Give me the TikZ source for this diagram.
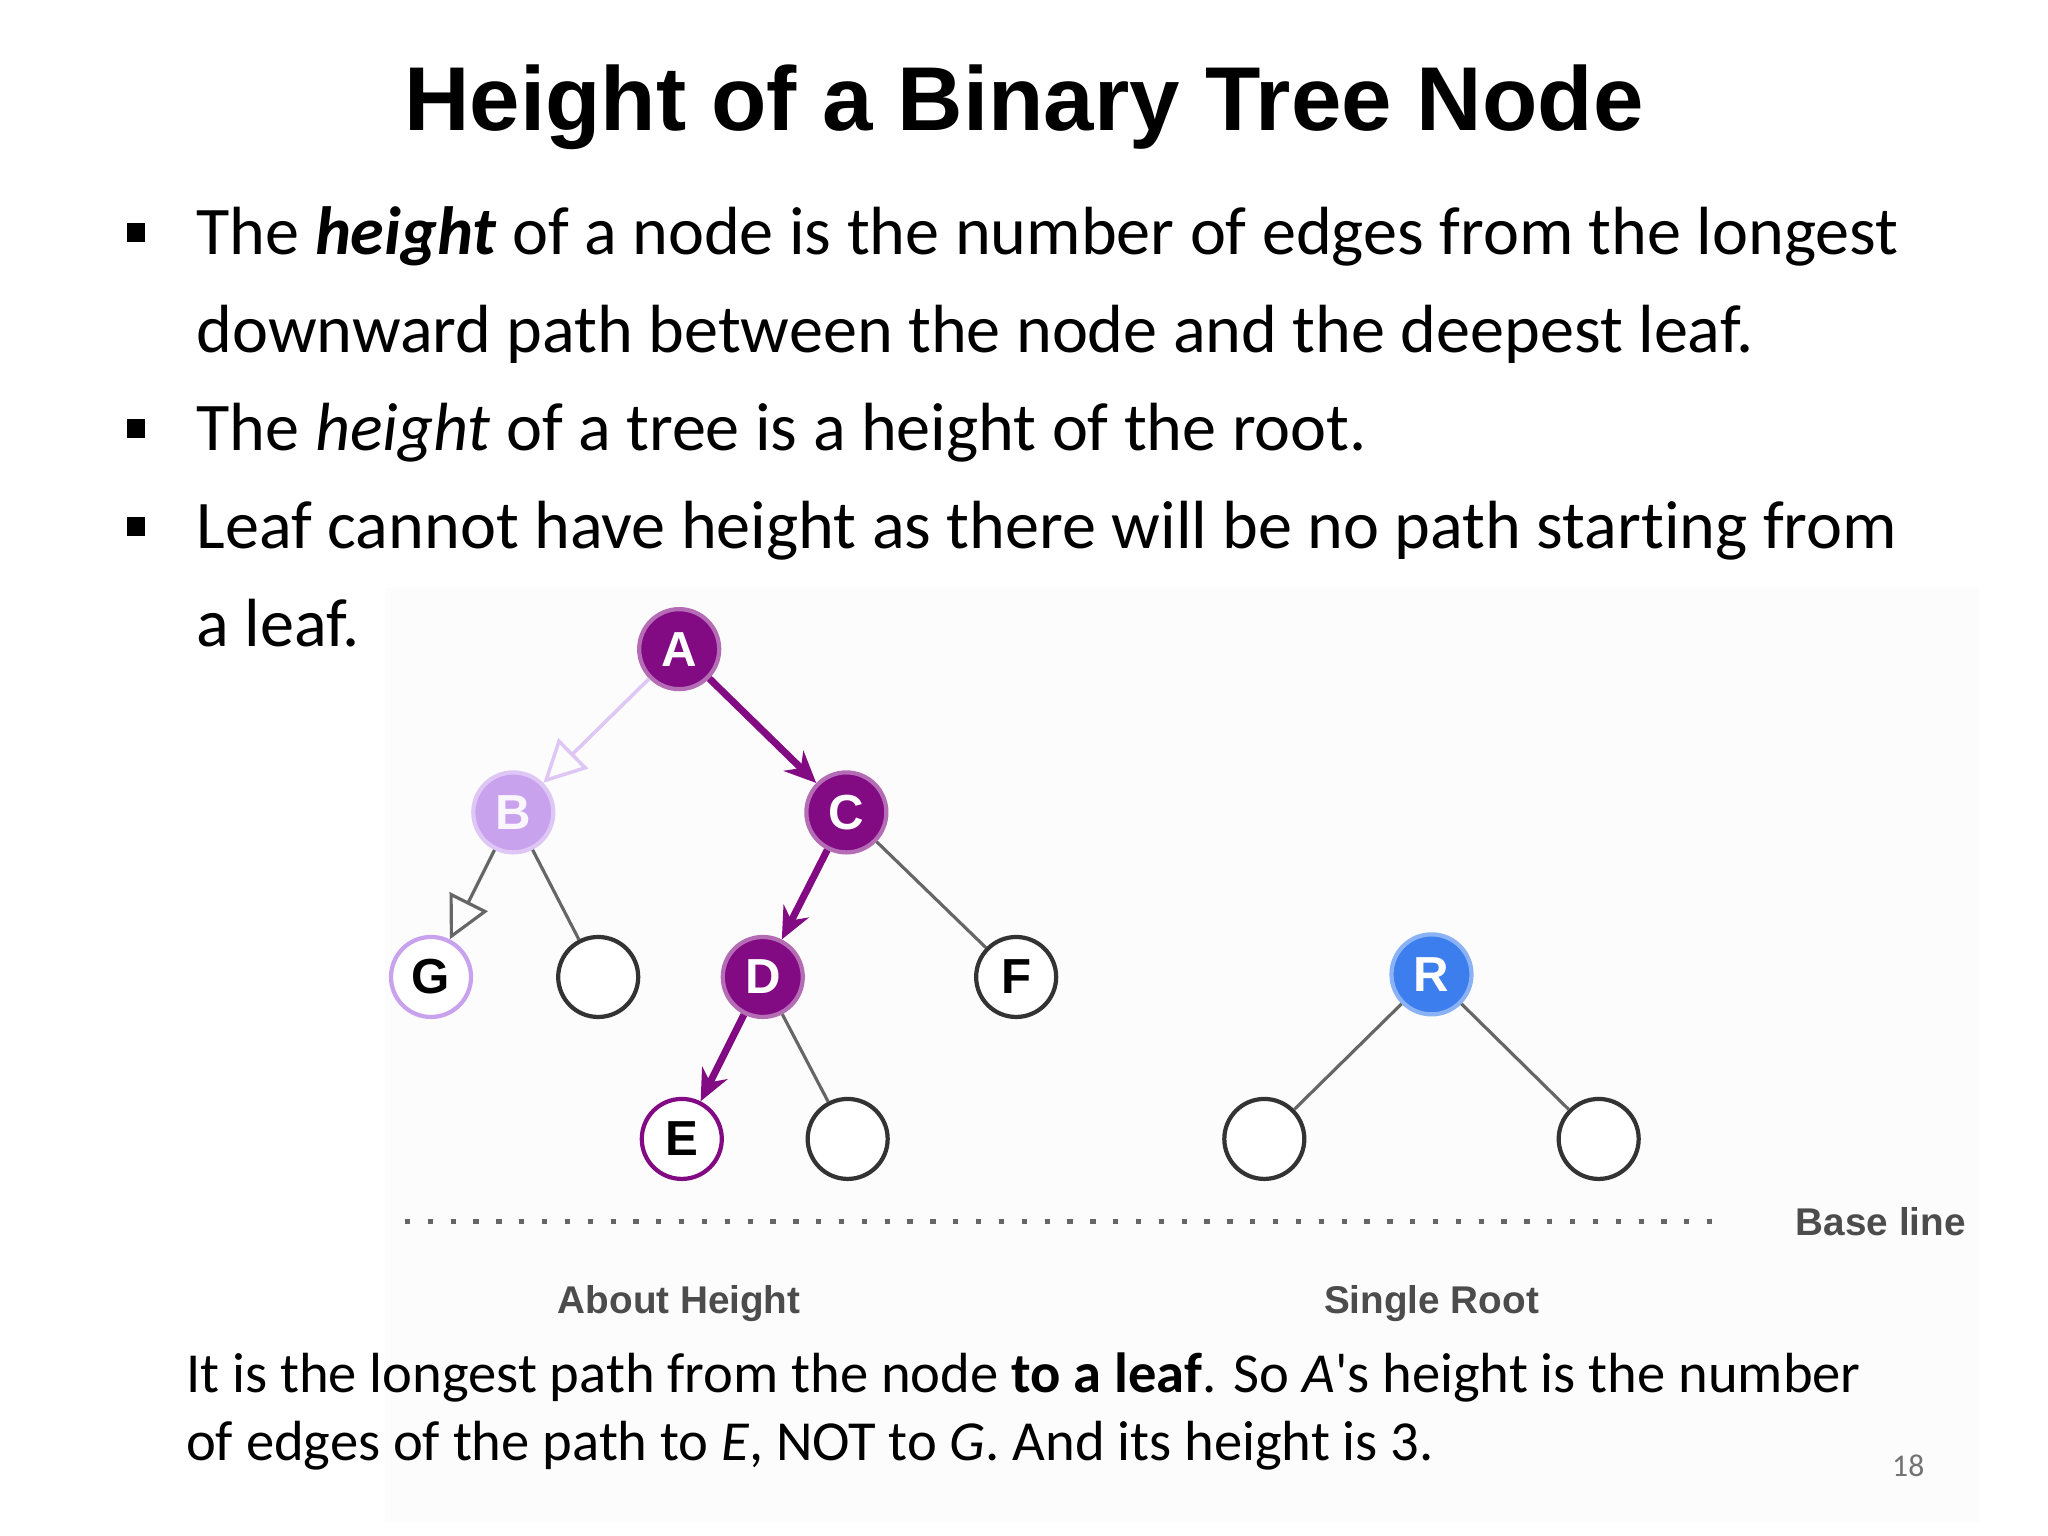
\documentclass[tikz,border=0pt]{standalone}
\usepackage{fontspec}
\setmainfont{Carlito}[Ligatures=NoCommon]
\newfontfamily\titlefont{Liberation Sans}
\usetikzlibrary{arrows.meta}
\definecolor{dpurple}{HTML}{820A82}
\definecolor{lpurple}{HTML}{C9A2EE}
\definecolor{rblue}{HTML}{3C7EEE}
\begin{document}
\begin{tikzpicture}[x=0.013061cm,y=-0.013061cm,
  tn/.style={circle,minimum size=0.8cm,inner sep=0pt,line width=1.2pt,font=\titlefont\bfseries\fontsize{14}{14}\selectfont},
  dark/.style={tn,fill=dpurple,draw=dpurple!60,text=white},
  empt/.style={tn,draw=black!80,fill=white},
  pe/.style={draw=dpurple,line width=2pt,-{Stealth[length=9pt,width=8pt]}},
  ge/.style={draw=black!60,line width=0.9pt},
  bt/.style={anchor=base west,inner sep=0pt,font=\fontsize{19.4}{22}\selectfont}]
\useasboundingbox (0,0) rectangle (1568,1176);
\fill[black!1.2] (295,450) rectangle (1515,1165);
\node[font=\titlefont\bfseries\fontsize{25.8}{30}\selectfont] (title) at (784,82) {Height of a Binary Tree Node};
\foreach \y/\n in {180/b1,330/b2,405/b3} \fill (97,\y-9) rectangle (111,\y+5);
\node[bt] (t1) at (150,195) {The \textbf{\textit{height}} of a node is the number of edges from the longest};
\node[bt] (t2) at (150,270) {downward path between the node and the deepest leaf.};
\node[bt] (t3) at (150,345) {The \textit{height} of a tree is a height of the root.};
\node[bt] (t4) at (150,420) {Leaf cannot have height as there will be no path starting from};
\node[bt] (t5) at (150,495) {a leaf.};
% tree
\node[dark] (A) at (520,497) {A};
\node[tn,fill=lpurple,draw=lpurple!60,text=white!90!lpurple] (B) at (393,622) {B};
\node[dark] (C) at (648,622) {C};
\node[tn,draw=lpurple,fill=white] (G) at (330,748) {G};
\node[empt] (n1) at (458,748) {};
\node[dark] (D) at (584,748) {D};
\node[empt] (F) at (778,748) {F};
\node[tn,draw=dpurple,fill=white] (E) at (522,872) {E};
\node[empt] (n2) at (649,872) {};
\node[tn,fill=rblue,draw=rblue!60,text=white] (R) at (1096,746) {R};
\node[empt] (n3) at (968,872) {};
\node[empt] (n4) at (1224,872) {};
\draw[pe] (A) -- (C);
\draw[pe] (C) -- (D);
\draw[pe] (D) -- (E);
\draw[draw=lpurple!60,line width=1pt,-{Triangle[open,length=12pt,width=12pt]}] (A) -- (B);
\draw[ge,-{Triangle[open,length=12pt,width=12pt]}] (B) -- (G);
\draw[ge] (B) -- (n1);
\draw[ge] (C) -- (F);
\draw[ge] (D) -- (n2);
\draw[ge] (R) -- (n3);
\draw[ge] (R) -- (n4);
\coordinate (bl1) at (310,935); \coordinate (bl2) at (1322,935);
\draw[black!60,line width=1.5pt,dash pattern=on 1.5pt off 5pt] (bl1) -- (bl2);
\node[font=\titlefont\bfseries\fontsize{11}{12}\selectfont,text=black!70] (bl) at (1440,935) {Base line};
\node[font=\titlefont\bfseries\fontsize{11}{12}\selectfont,text=black!70] (ah) at (520,998) {About Height};
\node[font=\titlefont\bfseries\fontsize{11}{12}\selectfont,text=black!70] (sr) at (1096,998) {Single Root};
\node[anchor=base west,inner sep=0pt,font=\fontsize{16.1}{18}\selectfont] (c1) at (142,1066) {It is the longest path from the node \textbf{to a leaf}. So \textit{A}\textquotesingle s height is the number};
\node[anchor=base west,inner sep=0pt,font=\fontsize{16.1}{18}\selectfont] (c2) at (142,1118) {of edges of the path to \textit{E}, NOT to \textit{G}. And its height is 3.};
\node[font=\fontsize{9}{10}\selectfont,text=black!55] (pg) at (1461,1122) {18};
\end{tikzpicture}
\end{document}
